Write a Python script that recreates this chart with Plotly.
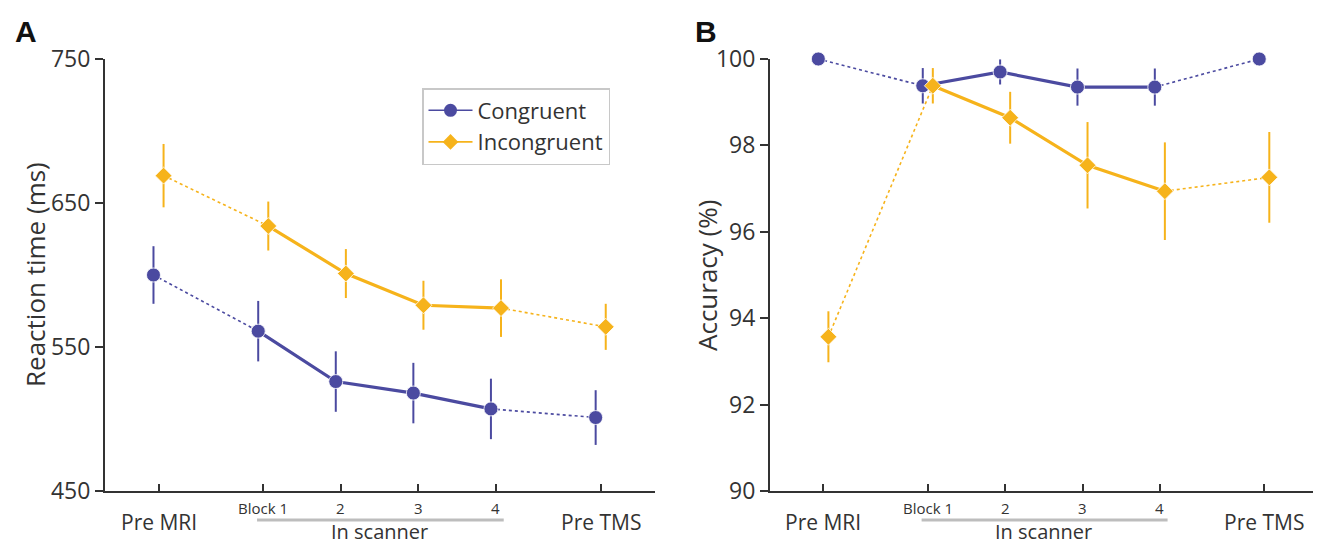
import plotly.graph_objects as go

# Session labels and their positions along the x axis
categories = ["Pre MRI", "Block 1", "2", "3", "4", "Pre TMS"]
positions = [0, 1.35, 2.35, 3.35, 4.35, 5.7]

# Reaction time (ms), mean and SEM
rt_congruent = [600, 561, 526, 518, 507, 501]
rt_congruent_se = [20, 21, 21, 21, 21, 19]
rt_incongruent = [669, 634, 601, 579, 577, 564]
rt_incongruent_se = [22, 17, 17, 17, 20, 16]

# Accuracy (%), mean and SEM
acc_congruent = [100, 99.38, 99.7, 99.35, 99.35, 100]
acc_congruent_se = [0, 0.41, 0.29, 0.43, 0.43, 0]
acc_incongruent = [93.57, 99.38, 98.64, 97.54, 96.94, 97.26]
acc_incongruent_se = [0.59, 0.41, 0.6, 1.0, 1.13, 1.05]

rt_ticks = [450, 550, 650, 750]
acc_ticks = [90, 92, 94, 96, 98, 100]

BLUE = "#4b4aa0"
GOLD = "#f6b31b"
TXT = "#333333"
FONT = "Open Sans"
DODGE = 0.065

fig = go.Figure()


def add_series(means, ses, color, symbol, size, offset, xa, ya):
    xs = [p + offset for p in positions]
    # dotted links to the sessions outside the scanner
    for seg in ([0, 1], [4, 5]):
        fig.add_trace(go.Scatter(
            x=[xs[i] for i in seg], y=[means[i] for i in seg],
            mode="lines", line=dict(color=color, width=1.6, dash="dot"),
            showlegend=False, hoverinfo="skip", xaxis=xa, yaxis=ya,
            cliponaxis=False))
    # solid line across the scanner blocks
    fig.add_trace(go.Scatter(
        x=xs[1:5], y=means[1:5], mode="lines",
        line=dict(color=color, width=3.2),
        showlegend=False, hoverinfo="skip", xaxis=xa, yaxis=ya,
        cliponaxis=False))
    # markers with SEM bars
    fig.add_trace(go.Scatter(
        x=xs, y=means, mode="markers",
        marker=dict(color=color, symbol=symbol, size=size,
                    line=dict(color="rgba(255,255,255,0.8)", width=1)),
        error_y=dict(type="data", array=ses, visible=True,
                     color=color, thickness=2, width=0),
        showlegend=False, xaxis=xa, yaxis=ya, cliponaxis=False))


add_series(rt_congruent, rt_congruent_se, BLUE, "circle", 14, -DODGE, "x", "y")
add_series(rt_incongruent, rt_incongruent_se, GOLD, "diamond", 13, DODGE, "x", "y")
add_series(acc_congruent, acc_congruent_se, BLUE, "circle", 14, -DODGE, "x2", "y2")
add_series(acc_incongruent, acc_incongruent_se, GOLD, "diamond", 13, DODGE, "x2", "y2")

# legend entries
for name, color, symbol, size in [("Congruent", BLUE, "circle", 13),
                                  ("Incongruent", GOLD, "diamond", 12)]:
    fig.add_trace(go.Scatter(
        x=[None], y=[None], mode="lines+markers", name=name,
        line=dict(color=color, width=1.6),
        marker=dict(color=color, symbol=symbol, size=size),
        xaxis="x", yaxis="y"))

W, H = 1325, 544
dom_y = [1 - 491 / H, 1 - 59 / H]

axis_common = dict(
    showline=True, linecolor=TXT, linewidth=2, showgrid=False, zeroline=False,
    automargin=False,
)
xaxis_common = dict(axis_common, tickvals=positions, showticklabels=False,
                    ticks="inside", ticklen=7, tickwidth=1.5, tickcolor=TXT)

fig.update_layout(
    width=W, height=H,
    margin=dict(l=0, r=0, t=0, b=0),
    paper_bgcolor="white", plot_bgcolor="white",
    font=dict(family=FONT, color=TXT),
    xaxis=dict(xaxis_common, domain=[105 / W, 655 / W], range=[-0.69, 6.4],
               anchor="y"),
    yaxis=dict(axis_common, domain=dom_y, range=[450, 750], tickvals=rt_ticks,
               ticks="outside", ticklen=8, tickwidth=1.5, tickcolor=TXT,
               tickfont=dict(size=23, family=FONT, color=TXT), anchor="x"),
    xaxis2=dict(xaxis_common, domain=[770 / W, 1313 / W], range=[-0.69, 6.33],
                anchor="y2"),
    yaxis2=dict(axis_common, domain=dom_y, range=[90, 100], tickvals=acc_ticks,
                ticks="outside", ticklen=8, tickwidth=1.5, tickcolor=TXT,
                tickfont=dict(size=23, family=FONT, color=TXT), anchor="x2"),
    legend=dict(x=422 / W, y=1 - 88 / H, xanchor="left", yanchor="top",
                bgcolor="white", bordercolor="#c8c8c8", borderwidth=1.5,
                font=dict(size=22, family=FONT, color=TXT),
                tracegroupgap=0, itemwidth=44),
)

annotations = []
shapes = []
for xa, ytitle, x_title, x_letter, letter in [
        ("x", "Reaction time (ms)", 35, 26, "A"),
        ("x2", "Accuracy (%)", 707, 706, "B")]:
    # category labels under the axis
    for i, (cat, pos) in enumerate(zip(categories, positions)):
        outer = i in (0, len(categories) - 1)
        annotations.append(dict(
            x=pos, y=1 - (522 if outer else 508) / H, xref=xa, yref="paper",
            text=cat, showarrow=False, xanchor="center", yanchor="middle",
            font=dict(size=21 if outer else 15, family=FONT, color=TXT)))
    # bracket for the in-scanner blocks
    shapes.append(dict(type="line", xref=xa, yref="paper",
                       x0=positions[1] - 0.08, x1=positions[4] + 0.1,
                       y0=1 - 520 / H, y1=1 - 520 / H,
                       line=dict(color="#bdbdbd", width=3)))
    annotations.append(dict(
        x=(positions[1] + positions[4]) / 2, y=1 - 531 / H, xref=xa,
        yref="paper", text="In scanner", showarrow=False,
        xanchor="center", yanchor="middle",
        font=dict(size=20, family=FONT, color=TXT)))
    # y axis title
    annotations.append(dict(
        x=x_title / W, y=1 - 275 / H, xref="paper", yref="paper",
        text=ytitle, textangle=-90, showarrow=False,
        xanchor="center", yanchor="middle",
        font=dict(size=26, family=FONT, color=TXT)))
    # panel letter
    annotations.append(dict(
        x=x_letter / W, y=1 - 31 / H, xref="paper", yref="paper",
        text="<b>" + letter + "</b>", showarrow=False,
        xanchor="center", yanchor="middle",
        font=dict(size=30, family="Liberation Sans", color="#111111")))

fig.update_layout(annotations=annotations, shapes=shapes)

fig.write_html("out.html")
